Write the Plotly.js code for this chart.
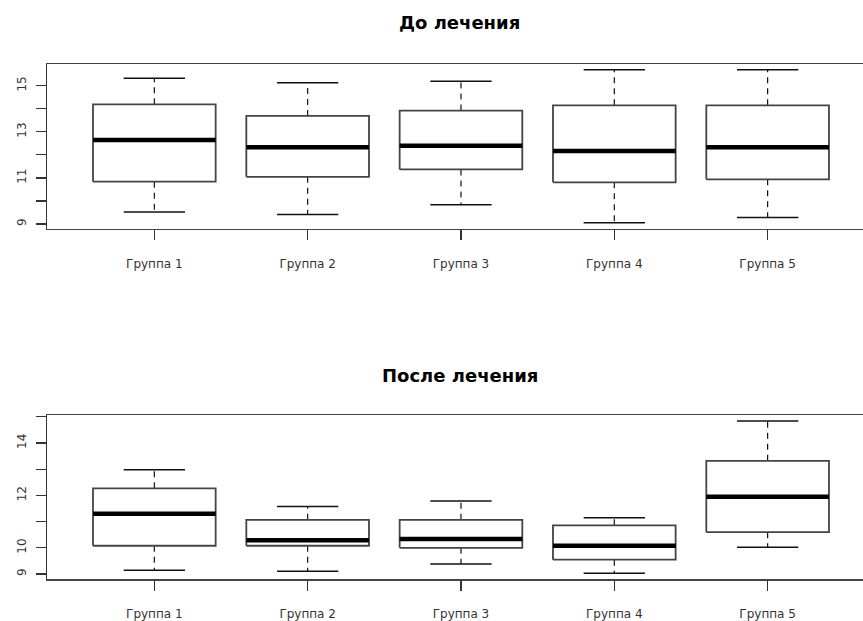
<!DOCTYPE html>
<html>
<head>
<meta charset="utf-8">
<script src="https://cdn.plot.ly/plotly-3.0.1.min.js"></script>
<style>html,body{margin:0;padding:0;background:#fff;}#chart{width:863px;height:621px;}</style>
</head>
<body>
<div id="chart"></div>
<script>
// ---- data ----
const groups = ['Группа 1', 'Группа 2', 'Группа 3', 'Группа 4', 'Группа 5'];

const beforeLower  = [9.52, 9.42, 9.84, 9.06, 9.29];
const beforeQ1     = [10.84, 11.05, 11.37, 10.81, 10.94];
const beforeMedian = [12.64, 12.33, 12.40, 12.17, 12.33];
const beforeQ3     = [14.19, 13.69, 13.92, 14.15, 14.15];
const beforeUpper  = [15.32, 15.13, 15.19, 15.69, 15.69];

const afterLower  = [9.15, 9.11, 9.38, 9.03, 10.02];
const afterQ1     = [10.08, 10.08, 10.00, 9.55, 10.60];
const afterMedian = [11.30, 10.29, 10.34, 10.08, 11.95];
const afterQ3     = [12.27, 11.07, 11.07, 10.86, 13.32];
const afterUpper  = [12.98, 11.58, 11.79, 11.15, 14.84];

const topTitle = 'До лечения';
const bottomTitle = 'После лечения';

const yTickValsTop = [9, 10, 11, 12, 13, 14, 15];
const yTickTextTop = ['9', '', '11', '', '13', '', '15'];
const yTickValsBottom = [9, 10, 11, 12, 13, 14, 15];
const yTickTextBottom = ['9', '10', '', '12', '', '14', ''];

// ---- styles ----
const BOX_HALF = 0.4;
const CAP_HALF = 0.2;
const pos = groups.map((g, i) => i + 1);

function panelTraces(lower, q1, med, q3, upper, xa, ya) {
  const bx = [], by = [], mx = [], my = [], wx = [], wy = [], cx = [], cy = [];
  pos.forEach((p, i) => {
    bx.push(p - BOX_HALF, p + BOX_HALF, p + BOX_HALF, p - BOX_HALF, p - BOX_HALF, null);
    by.push(q1[i], q1[i], q3[i], q3[i], q1[i], null);
    mx.push(p - BOX_HALF, p + BOX_HALF, null);
    my.push(med[i], med[i], null);
    wx.push(p, p, null, p, p, null);
    wy.push(q3[i], upper[i], null, q1[i], lower[i], null);
    cx.push(p - CAP_HALF, p + CAP_HALF, null, p - CAP_HALF, p + CAP_HALF, null);
    cy.push(upper[i], upper[i], null, lower[i], lower[i], null);
  });
  const common = {type: 'scatter', mode: 'lines', xaxis: xa, yaxis: ya, hoverinfo: 'skip', showlegend: false};
  return [
    Object.assign({}, common, {x: wx, y: wy, line: {color: '#111', width: 1.2, dash: '6px,5px'}}),
    Object.assign({}, common, {x: cx, y: cy, line: {color: '#111', width: 1.5}}),
    Object.assign({}, common, {x: bx, y: by, line: {color: '#444', width: 1.8}}),
    Object.assign({}, common, {x: mx, y: my, line: {color: '#000', width: 4.5}})
  ];
}

const data = [].concat(
  panelTraces(beforeLower, beforeQ1, beforeMedian, beforeQ3, beforeUpper, 'x', 'y'),
  panelTraces(afterLower, afterQ1, afterMedian, afterQ3, afterUpper, 'x2', 'y2')
);

const H = 621;
const xaxisBase = {
  range: [0.3, 5.622],
  tickmode: 'array', tickvals: pos, ticktext: groups,
  showline: true, mirror: true, linecolor: '#444', linewidth: 1.5,
  ticks: 'outside', ticklen: 10, tickwidth: 1.2, tickcolor: '#333',
  showgrid: false, zeroline: false,
  tickfont: {family: 'DejaVu Sans', size: 12, color: '#333'},
  ticklabelstandoff: 13
};
const yaxisBase = {
  tickmode: 'array',
  showline: true, mirror: false, linecolor: '#333', linewidth: 1.5,
  ticks: 'outside', ticklen: 10, tickwidth: 1.2, tickcolor: '#333',
  showgrid: false, zeroline: false, tickangle: -90,
  tickfont: {family: 'DejaVu Sans', size: 12, color: '#333'},
  ticklabelstandoff: 5
};

const layout = {
  width: 863, height: 621,
  margin: {l: 47, r: 0, t: 0, b: 0},
  paper_bgcolor: '#fff', plot_bgcolor: '#fff',
  xaxis: Object.assign({}, xaxisBase, {domain: [0, 1], anchor: 'y'}),
  yaxis: Object.assign({}, yaxisBase, {domain: [1 - 228.7 / H, 1 - 64 / H], range: [8.80, 15.94],
    tickvals: yTickValsTop, ticktext: yTickTextTop, anchor: 'x'}),
  xaxis2: Object.assign({}, xaxisBase, {domain: [0, 1], anchor: 'y2'}),
  yaxis2: Object.assign({}, yaxisBase, {domain: [1 - 579.3 / H, 1 - 415 / H], range: [8.80, 15.07],
    tickvals: yTickValsBottom, ticktext: yTickTextBottom, anchor: 'x2'}),
  annotations: [
    {text: '<b>' + topTitle + '</b>', xref: 'paper', yref: 'paper', x: 0.506, y: 1 - 23 / H,
     xanchor: 'center', yanchor: 'middle', showarrow: false,
     font: {family: 'DejaVu Sans', size: 18, color: '#000'}},
    {text: '<b>' + bottomTitle + '</b>', xref: 'paper', yref: 'paper', x: 0.506, y: 1 - 375 / H,
     xanchor: 'center', yanchor: 'middle', showarrow: false,
     font: {family: 'DejaVu Sans', size: 18, color: '#000'}}
  ]
};

Plotly.newPlot('chart', data, layout, {displayModeBar: false, staticPlot: true});
</script>
</body>
</html>
